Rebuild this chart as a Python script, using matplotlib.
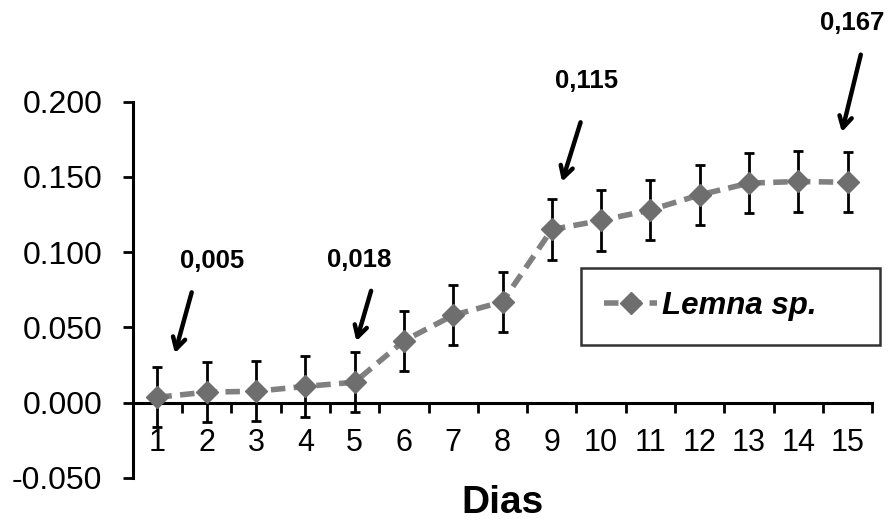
import matplotlib
matplotlib.use("Agg")
import matplotlib.pyplot as plt
from matplotlib.ticker import FixedLocator

plt.rcParams['font.family'] = ['Liberation Sans', 'DejaVu Sans']

days = list(range(1, 16))
lemna = [0.0035, 0.0069, 0.0075, 0.0107, 0.0135, 0.041, 0.058, 0.067,
         0.115, 0.121, 0.128, 0.138, 0.1458, 0.1469, 0.1464]
lemna_err = [0.020] * 15

notes = ["0,005", "0,018", "0,115", "0,167"]
# arrow tip, arrow tail, text centre (data coords)
note_tips = [(1.34, 0.031), (5.02, 0.039), (9.19, 0.145), (14.87, 0.178)]
note_tails = [(1.71, 0.075), (5.35, 0.076), (9.60, 0.188), (15.28, 0.233)]
note_text = [(2.10, 0.094), (5.10, 0.095), (9.70, 0.214), (15.10, 0.252)]

fig = plt.figure(figsize=(8.91, 5.21), dpi=100)
ax = fig.add_axes([0.149, 0.083, 0.830, 0.722])

ax.errorbar(days, lemna, yerr=lemna_err, fmt="none", ecolor="black",
            elinewidth=2, capsize=3.6, capthick=2, zorder=2)
ax.plot(days, lemna, color="#808080", linestyle=(0, (2.6, 1.5)), linewidth=4,
        marker="D", markersize=11, markerfacecolor="#6e6e6e",
        markeredgecolor="#6e6e6e", label="Lemna sp.", zorder=3)

ax.set_xlim(0.5, 15.5)
ax.set_ylim(-0.05, 0.2)
ax.spines["top"].set_visible(False)
ax.spines["right"].set_visible(False)
ax.spines["bottom"].set_position(("data", 0))
ax.spines["left"].set_linewidth(2.2)
ax.spines["bottom"].set_linewidth(2.2)

ax.set_yticks([-0.05, 0, 0.05, 0.1, 0.15, 0.2])
ax.set_yticklabels(["-0.050", "0.000", "0.050", "0.100", "0.150", "0.200"])
ax.tick_params(axis="y", length=7, width=2, labelsize=23, pad=15)

ax.set_xticks(days)
ax.set_xticklabels([str(d) for d in days])
ax.xaxis.set_minor_locator(FixedLocator([d + 0.5 for d in range(0, 16)]))
ax.tick_params(axis="x", which="major", length=0, labelsize=22, pad=18)
ax.tick_params(axis="x", which="minor", length=7, width=2, direction="out")

ax.set_xlabel("Dias", fontsize=28, fontweight="bold", labelpad=20)

for txt, tip, tail, pos in zip(notes, note_tips, note_tails, note_text):
    ax.annotate("", xy=tip, xytext=tail,
                arrowprops=dict(arrowstyle="->,head_length=0.8,head_width=0.45",
                                color="black", lw=3.2), annotation_clip=False)
    ax.text(pos[0], pos[1], txt, fontsize=18.5, fontweight="bold",
            ha="center", va="center", clip_on=False)

leg = ax.legend(loc="center left", bbox_to_anchor=(0.606, 0.347, 0.405, 0.218),
                mode="expand", frameon=True, fancybox=False, edgecolor="black",
                prop={"style": "italic", "weight": "bold", "size": 22.5},
                borderpad=0.75, handlelength=1.7, handletextpad=0.15,
                borderaxespad=0)
leg.get_frame().set_linewidth(1.8)

fig.savefig("out.png", dpi=100)
